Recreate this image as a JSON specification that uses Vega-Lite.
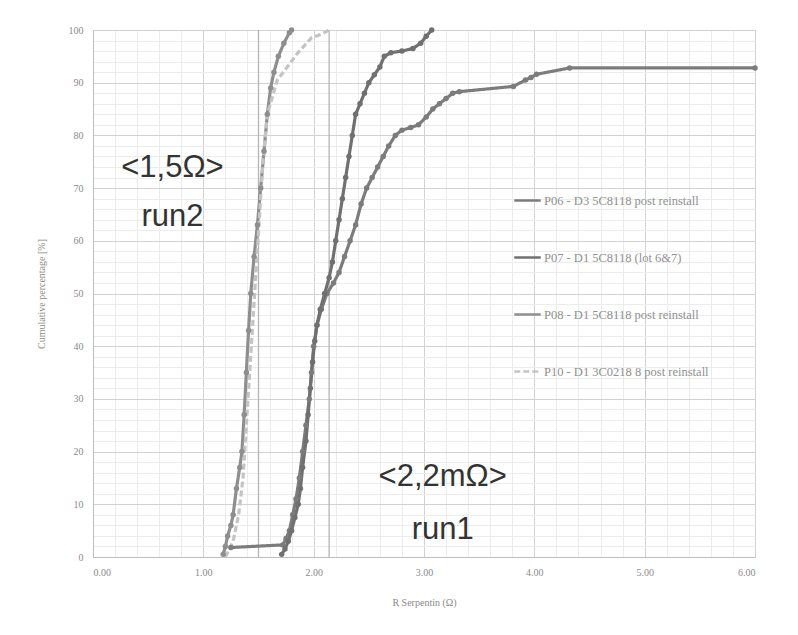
{
  "$schema": "https://vega.github.io/schema/vega-lite/v6.json",
  "width": 662,
  "height": 527,
  "autosize": {"type": "none"},
  "padding": {"left": 93, "top": 30, "right": 43, "bottom": 78},
  "background": "white",
  "config": {
    "view": {"stroke": "#d4d4d4"},
    "font": "Liberation Serif"
  },
  "datasets": {
    "curves": [
      {"series": "P06 - D3 5C8118 post reinstall", "r": 1.25, "pct": 1.8},
      {"series": "P06 - D3 5C8118 post reinstall", "r": 1.72, "pct": 2.3},
      {"series": "P06 - D3 5C8118 post reinstall", "r": 1.75, "pct": 3.5},
      {"series": "P06 - D3 5C8118 post reinstall", "r": 1.78, "pct": 5},
      {"series": "P06 - D3 5C8118 post reinstall", "r": 1.81, "pct": 8},
      {"series": "P06 - D3 5C8118 post reinstall", "r": 1.84, "pct": 11},
      {"series": "P06 - D3 5C8118 post reinstall", "r": 1.87, "pct": 15},
      {"series": "P06 - D3 5C8118 post reinstall", "r": 1.9, "pct": 20},
      {"series": "P06 - D3 5C8118 post reinstall", "r": 1.93, "pct": 25},
      {"series": "P06 - D3 5C8118 post reinstall", "r": 1.96, "pct": 30},
      {"series": "P06 - D3 5C8118 post reinstall", "r": 1.98, "pct": 35},
      {"series": "P06 - D3 5C8118 post reinstall", "r": 2.0, "pct": 40},
      {"series": "P06 - D3 5C8118 post reinstall", "r": 2.03, "pct": 44},
      {"series": "P06 - D3 5C8118 post reinstall", "r": 2.07, "pct": 47},
      {"series": "P06 - D3 5C8118 post reinstall", "r": 2.12, "pct": 50},
      {"series": "P06 - D3 5C8118 post reinstall", "r": 2.18, "pct": 52},
      {"series": "P06 - D3 5C8118 post reinstall", "r": 2.23, "pct": 54},
      {"series": "P06 - D3 5C8118 post reinstall", "r": 2.28, "pct": 57},
      {"series": "P06 - D3 5C8118 post reinstall", "r": 2.33, "pct": 60},
      {"series": "P06 - D3 5C8118 post reinstall", "r": 2.38, "pct": 63},
      {"series": "P06 - D3 5C8118 post reinstall", "r": 2.43, "pct": 67},
      {"series": "P06 - D3 5C8118 post reinstall", "r": 2.48, "pct": 70},
      {"series": "P06 - D3 5C8118 post reinstall", "r": 2.53, "pct": 72},
      {"series": "P06 - D3 5C8118 post reinstall", "r": 2.58, "pct": 74},
      {"series": "P06 - D3 5C8118 post reinstall", "r": 2.63, "pct": 76},
      {"series": "P06 - D3 5C8118 post reinstall", "r": 2.68, "pct": 78},
      {"series": "P06 - D3 5C8118 post reinstall", "r": 2.74, "pct": 80},
      {"series": "P06 - D3 5C8118 post reinstall", "r": 2.8, "pct": 81},
      {"series": "P06 - D3 5C8118 post reinstall", "r": 2.88, "pct": 81.5},
      {"series": "P06 - D3 5C8118 post reinstall", "r": 2.95, "pct": 82},
      {"series": "P06 - D3 5C8118 post reinstall", "r": 3.02, "pct": 83.5},
      {"series": "P06 - D3 5C8118 post reinstall", "r": 3.08, "pct": 85},
      {"series": "P06 - D3 5C8118 post reinstall", "r": 3.14, "pct": 86},
      {"series": "P06 - D3 5C8118 post reinstall", "r": 3.2, "pct": 87},
      {"series": "P06 - D3 5C8118 post reinstall", "r": 3.26, "pct": 88},
      {"series": "P06 - D3 5C8118 post reinstall", "r": 3.32, "pct": 88.3},
      {"series": "P06 - D3 5C8118 post reinstall", "r": 3.81, "pct": 89.3},
      {"series": "P06 - D3 5C8118 post reinstall", "r": 3.92, "pct": 90.5},
      {"series": "P06 - D3 5C8118 post reinstall", "r": 3.97, "pct": 91},
      {"series": "P06 - D3 5C8118 post reinstall", "r": 4.02, "pct": 91.6},
      {"series": "P06 - D3 5C8118 post reinstall", "r": 4.32, "pct": 92.8},
      {"series": "P06 - D3 5C8118 post reinstall", "r": 6.0, "pct": 92.8},

      {"series": "P07 - D1 5C8118 (lot 6&7)", "r": 1.71, "pct": 0.5},
      {"series": "P07 - D1 5C8118 (lot 6&7)", "r": 1.74, "pct": 1.5},
      {"series": "P07 - D1 5C8118 (lot 6&7)", "r": 1.77, "pct": 3},
      {"series": "P07 - D1 5C8118 (lot 6&7)", "r": 1.8, "pct": 5},
      {"series": "P07 - D1 5C8118 (lot 6&7)", "r": 1.83, "pct": 7.5},
      {"series": "P07 - D1 5C8118 (lot 6&7)", "r": 1.86, "pct": 10},
      {"series": "P07 - D1 5C8118 (lot 6&7)", "r": 1.88, "pct": 13},
      {"series": "P07 - D1 5C8118 (lot 6&7)", "r": 1.9, "pct": 17},
      {"series": "P07 - D1 5C8118 (lot 6&7)", "r": 1.93, "pct": 22},
      {"series": "P07 - D1 5C8118 (lot 6&7)", "r": 1.95, "pct": 27},
      {"series": "P07 - D1 5C8118 (lot 6&7)", "r": 1.97, "pct": 32},
      {"series": "P07 - D1 5C8118 (lot 6&7)", "r": 1.99, "pct": 37},
      {"series": "P07 - D1 5C8118 (lot 6&7)", "r": 2.01, "pct": 41},
      {"series": "P07 - D1 5C8118 (lot 6&7)", "r": 2.03, "pct": 44},
      {"series": "P07 - D1 5C8118 (lot 6&7)", "r": 2.06, "pct": 47},
      {"series": "P07 - D1 5C8118 (lot 6&7)", "r": 2.1, "pct": 50},
      {"series": "P07 - D1 5C8118 (lot 6&7)", "r": 2.14, "pct": 53},
      {"series": "P07 - D1 5C8118 (lot 6&7)", "r": 2.17, "pct": 56},
      {"series": "P07 - D1 5C8118 (lot 6&7)", "r": 2.2, "pct": 60},
      {"series": "P07 - D1 5C8118 (lot 6&7)", "r": 2.23, "pct": 64},
      {"series": "P07 - D1 5C8118 (lot 6&7)", "r": 2.26, "pct": 68},
      {"series": "P07 - D1 5C8118 (lot 6&7)", "r": 2.29, "pct": 72},
      {"series": "P07 - D1 5C8118 (lot 6&7)", "r": 2.32, "pct": 76},
      {"series": "P07 - D1 5C8118 (lot 6&7)", "r": 2.35, "pct": 80},
      {"series": "P07 - D1 5C8118 (lot 6&7)", "r": 2.38, "pct": 84},
      {"series": "P07 - D1 5C8118 (lot 6&7)", "r": 2.42, "pct": 86},
      {"series": "P07 - D1 5C8118 (lot 6&7)", "r": 2.46, "pct": 88},
      {"series": "P07 - D1 5C8118 (lot 6&7)", "r": 2.5, "pct": 90},
      {"series": "P07 - D1 5C8118 (lot 6&7)", "r": 2.55, "pct": 91.5},
      {"series": "P07 - D1 5C8118 (lot 6&7)", "r": 2.6, "pct": 93},
      {"series": "P07 - D1 5C8118 (lot 6&7)", "r": 2.64, "pct": 95},
      {"series": "P07 - D1 5C8118 (lot 6&7)", "r": 2.7, "pct": 95.7},
      {"series": "P07 - D1 5C8118 (lot 6&7)", "r": 2.8, "pct": 96},
      {"series": "P07 - D1 5C8118 (lot 6&7)", "r": 2.9, "pct": 96.5},
      {"series": "P07 - D1 5C8118 (lot 6&7)", "r": 2.97, "pct": 97.5},
      {"series": "P07 - D1 5C8118 (lot 6&7)", "r": 3.02, "pct": 98.8},
      {"series": "P07 - D1 5C8118 (lot 6&7)", "r": 3.07, "pct": 100},

      {"series": "P08 - D1 5C8118 post reinstall", "r": 1.18, "pct": 0.5},
      {"series": "P08 - D1 5C8118 post reinstall", "r": 1.2, "pct": 2},
      {"series": "P08 - D1 5C8118 post reinstall", "r": 1.22, "pct": 4},
      {"series": "P08 - D1 5C8118 post reinstall", "r": 1.25, "pct": 6},
      {"series": "P08 - D1 5C8118 post reinstall", "r": 1.27, "pct": 8},
      {"series": "P08 - D1 5C8118 post reinstall", "r": 1.3, "pct": 13},
      {"series": "P08 - D1 5C8118 post reinstall", "r": 1.33, "pct": 17},
      {"series": "P08 - D1 5C8118 post reinstall", "r": 1.35, "pct": 20},
      {"series": "P08 - D1 5C8118 post reinstall", "r": 1.37, "pct": 27},
      {"series": "P08 - D1 5C8118 post reinstall", "r": 1.39, "pct": 35},
      {"series": "P08 - D1 5C8118 post reinstall", "r": 1.41, "pct": 43},
      {"series": "P08 - D1 5C8118 post reinstall", "r": 1.43, "pct": 50},
      {"series": "P08 - D1 5C8118 post reinstall", "r": 1.46, "pct": 57},
      {"series": "P08 - D1 5C8118 post reinstall", "r": 1.49, "pct": 63},
      {"series": "P08 - D1 5C8118 post reinstall", "r": 1.52, "pct": 70},
      {"series": "P08 - D1 5C8118 post reinstall", "r": 1.55, "pct": 77},
      {"series": "P08 - D1 5C8118 post reinstall", "r": 1.58, "pct": 84},
      {"series": "P08 - D1 5C8118 post reinstall", "r": 1.61, "pct": 89},
      {"series": "P08 - D1 5C8118 post reinstall", "r": 1.64, "pct": 92},
      {"series": "P08 - D1 5C8118 post reinstall", "r": 1.68, "pct": 95},
      {"series": "P08 - D1 5C8118 post reinstall", "r": 1.73, "pct": 97.5},
      {"series": "P08 - D1 5C8118 post reinstall", "r": 1.78, "pct": 99.5},
      {"series": "P08 - D1 5C8118 post reinstall", "r": 1.8, "pct": 100},

      {"series": "P10 - D1 3C0218 8 post reinstall", "r": 1.2, "pct": 0},
      {"series": "P10 - D1 3C0218 8 post reinstall", "r": 1.27, "pct": 3},
      {"series": "P10 - D1 3C0218 8 post reinstall", "r": 1.32, "pct": 8},
      {"series": "P10 - D1 3C0218 8 post reinstall", "r": 1.36, "pct": 15},
      {"series": "P10 - D1 3C0218 8 post reinstall", "r": 1.39, "pct": 25},
      {"series": "P10 - D1 3C0218 8 post reinstall", "r": 1.42, "pct": 35},
      {"series": "P10 - D1 3C0218 8 post reinstall", "r": 1.45, "pct": 45},
      {"series": "P10 - D1 3C0218 8 post reinstall", "r": 1.48, "pct": 55},
      {"series": "P10 - D1 3C0218 8 post reinstall", "r": 1.51, "pct": 65},
      {"series": "P10 - D1 3C0218 8 post reinstall", "r": 1.54, "pct": 75},
      {"series": "P10 - D1 3C0218 8 post reinstall", "r": 1.58, "pct": 84},
      {"series": "P10 - D1 3C0218 8 post reinstall", "r": 1.67, "pct": 90.5},
      {"series": "P10 - D1 3C0218 8 post reinstall", "r": 1.78, "pct": 93.5},
      {"series": "P10 - D1 3C0218 8 post reinstall", "r": 1.85, "pct": 95.5},
      {"series": "P10 - D1 3C0218 8 post reinstall", "r": 1.98, "pct": 98.5},
      {"series": "P10 - D1 3C0218 8 post reinstall", "r": 2.08, "pct": 99.3},
      {"series": "P10 - D1 3C0218 8 post reinstall", "r": 2.14, "pct": 100}
    ],
    "refs": [{"r": 1.5}, {"r": 2.14}],
    "notes": [
      {"r": 0.72, "pct": 73.8, "label": "<1,5Ω>"},
      {"r": 0.72, "pct": 64.5, "label": "run2"},
      {"r": 3.17, "pct": 15.2, "label": "<2,2mΩ>"},
      {"r": 3.17, "pct": 5.1, "label": "run1"}
    ]
  },
  "resolve": {"axis": {"x": "independent", "y": "independent"}},
  "layer": [
    {
      "data": {"name": "notes"},
      "mark": {"type": "point", "opacity": 0},
      "encoding": {
        "x": {
          "field": "r", "type": "quantitative",
          "scale": {"domain": [0, 6], "nice": false},
          "axis": {
            "orient": "bottom",
            "values": [0.2,0.4,0.6,0.8,1.2,1.4,1.6,1.8,2.2,2.4,2.6,2.8,3.2,3.4,3.6,3.8,4.2,4.4,4.6,4.8,5.2,5.4,5.6,5.8],
            "labels": false, "ticks": false, "domain": false, "title": null,
            "grid": true, "gridColor": "#ececec"
          }
        },
        "y": {
          "field": "pct", "type": "quantitative",
          "scale": {"domain": [0, 100], "nice": false},
          "axis": {
            "orient": "left",
            "values": [2,4,6,8,12,14,16,18,22,24,26,28,32,34,36,38,42,44,46,48,52,54,56,58,62,64,66,68,72,74,76,78,82,84,86,88,92,94,96,98],
            "labels": false, "ticks": false, "domain": false, "title": null,
            "grid": true, "gridColor": "#ececec"
          }
        }
      }
    },
    {
      "data": {"name": "refs"},
      "mark": {"type": "rule", "color": "#b4b4b4", "strokeWidth": 1.3},
      "encoding": {
        "x": {"field": "r", "type": "quantitative", "axis": null}
      }
    },
    {
      "data": {"name": "curves"},
      "mark": {"type": "line", "strokeWidth": 3.2, "interpolate": "linear"},
      "encoding": {
        "x": {
          "field": "r", "type": "quantitative",
          "title": "R Serpentin (Ω)",
          "axis": {
            "orient": "bottom",
            "values": [0, 1, 2, 3, 4, 5, 6],
            "format": ".2f",
            "grid": true,
            "gridColor": "#d2d2d2",
            "ticks": false,
            "domainColor": "#bdbdbd",
            "labelColor": "#8a8a8a",
            "labelFontSize": 10,
            "labelPadding": 10,
            "titleColor": "#8a8a8a",
            "titleFontSize": 10,
            "titleFontWeight": "normal",
            "titlePadding": 20
          }
        },
        "y": {
          "field": "pct", "type": "quantitative",
          "title": "Cumulative percentage [%]",
          "axis": {
            "orient": "left",
            "values": [0, 10, 20, 30, 40, 50, 60, 70, 80, 90, 100],
            "grid": true,
            "gridColor": "#d2d2d2",
            "ticks": false,
            "domainColor": "#bdbdbd",
            "labelColor": "#8a8a8a",
            "labelFontSize": 10,
            "labelPadding": 10,
            "titleColor": "#8a8a8a",
            "titleFontSize": 10,
            "titleFontWeight": "normal",
            "titlePadding": 22
          }
        },
        "color": {
          "field": "series", "type": "nominal",
          "scale": {
            "domain": ["P06 - D3 5C8118 post reinstall", "P07 - D1 5C8118 (lot 6&7)", "P08 - D1 5C8118 post reinstall", "P10 - D1 3C0218 8 post reinstall"],
            "range": ["#7c7c7c", "#707070", "#8e8e8e", "#c4c4c4"]
          },
          "legend": {
            "title": null,
            "orient": "none",
            "legendX": 420,
            "legendY": 156,
            "rowPadding": 36,
            "labelFontSize": 12.5,
            "labelLimit": 300,
            "labelColor": "#909090",
            "symbolType": "stroke",
            "symbolStrokeWidth": 2.5,
            "symbolSize": 700,
            "labelOffset": 2
          }
        },
        "strokeDash": {
          "field": "series", "type": "nominal",
          "scale": {
            "domain": ["P06 - D3 5C8118 post reinstall", "P07 - D1 5C8118 (lot 6&7)", "P08 - D1 5C8118 post reinstall", "P10 - D1 3C0218 8 post reinstall"],
            "range": [[1, 0], [1, 0], [1, 0], [6, 3]]
          },
          "legend": null
        },
        "order": {"field": "r", "type": "quantitative"}
      }
    },
    {
      "data": {"name": "curves"},
      "transform": [{"filter": "datum.series !== 'P10 - D1 3C0218 8 post reinstall'"}],
      "mark": {"type": "point", "filled": true, "size": 30, "opacity": 1},
      "encoding": {
        "x": {"field": "r", "type": "quantitative", "axis": null},
        "y": {"field": "pct", "type": "quantitative", "axis": null},
        "color": {"field": "series", "type": "nominal", "legend": null}
      }
    },
    {
      "data": {"name": "notes"},
      "mark": {"type": "text", "font": "Liberation Sans", "fontSize": 31, "color": "#333333", "align": "center", "baseline": "middle"},
      "encoding": {
        "x": {"field": "r", "type": "quantitative", "axis": null},
        "y": {"field": "pct", "type": "quantitative", "axis": null},
        "text": {"field": "label", "type": "nominal"}
      }
    }
  ]
}
